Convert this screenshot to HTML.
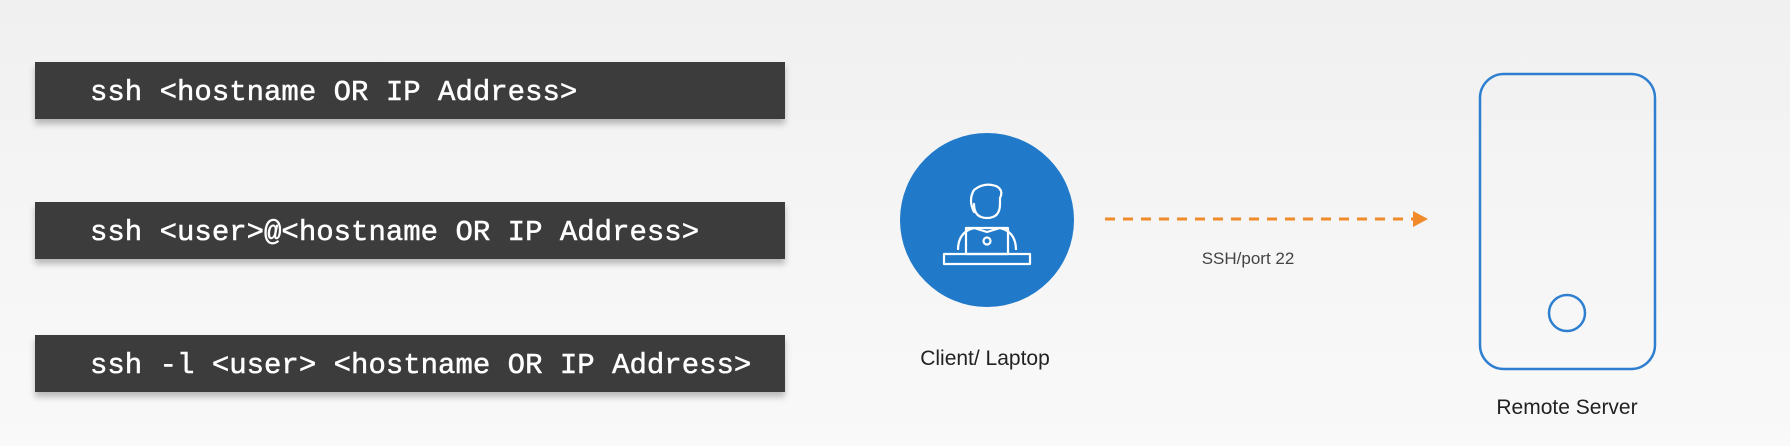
<!DOCTYPE html>
<html><head><style>
body{margin:0;width:1790px;height:446px;overflow:hidden;background:linear-gradient(180deg,#f0f0f0,#f6f6f6 60%,#f9f9f9);font-family:"Liberation Sans",sans-serif;position:relative}
.b{position:absolute;left:35px;width:750px;height:57px;background:#3d3c3d;box-shadow:0 5px 6px rgba(0,0,0,.25);color:#fff;font-family:"Liberation Mono",monospace;font-size:29px;line-height:62px;padding-left:55px;box-sizing:border-box;-webkit-text-stroke:0.5px #fff}
.t{position:absolute;color:#222;transform:translateX(-50%);white-space:nowrap}
</style></head><body>
<div class="b" style="top:62px">ssh &lt;hostname OR IP Address&gt;</div>
<div class="b" style="top:202px">ssh &lt;user&gt;@&lt;hostname OR IP Address&gt;</div>
<div class="b" style="top:335px">ssh -l &lt;user&gt; &lt;hostname OR IP Address&gt;</div>
<svg width="1790" height="446" style="position:absolute;left:0;top:0">
<circle cx="987" cy="220" r="87" fill="#2179c9"/>
<g fill="none" stroke="#fff" stroke-width="2.2" stroke-linejoin="round">
<path d="M974 212 q-6 -12 0 -22 q10 -8 22 -4 q8 4 4 12 v6 q0 14 -13 14 q-13 0 -13 -14 z"/>
<path d="M958 250 q0 -18 16 -22 l13 4 l13 -4 q16 4 16 22"/>
<rect x="966" y="228" width="42" height="26"/>
<circle cx="987" cy="241" r="3.5"/>
<path d="M944 254 h86 v10 h-86 z"/>
</g>
<line x1="1105" y1="219" x2="1415" y2="219" stroke="#f08a2a" stroke-width="3" stroke-dasharray="10,8"/>
<polygon points="1413,211 1428,219 1413,227" fill="#f08a2a"/>
<rect x="1480" y="74" width="175" height="295" rx="24" fill="none" stroke="#2f7fd0" stroke-width="2.5"/>
<circle cx="1567" cy="313" r="18" fill="none" stroke="#2f7fd0" stroke-width="2.5"/>
</svg>
<div class="t" style="left:1248px;top:249px;font-size:17px;color:#444">SSH/port 22</div>
<div class="t" style="left:985px;top:347px;font-size:21px">Client/ Laptop</div>
<div class="t" style="left:1567px;top:396px;font-size:21px">Remote Server</div>
</body></html>
